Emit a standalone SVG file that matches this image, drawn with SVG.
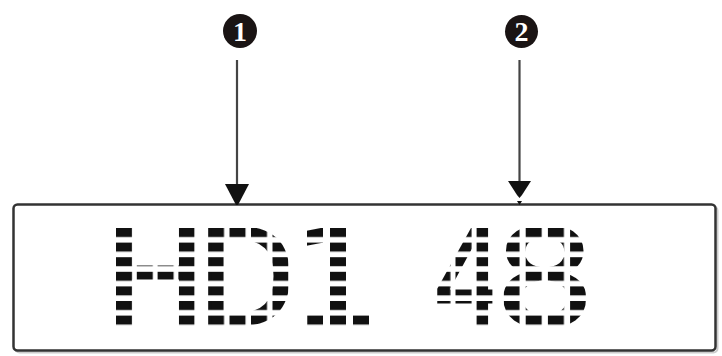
<svg xmlns="http://www.w3.org/2000/svg" width="722" height="356" viewBox="0 0 722 356">
<style>
.lcd{font-family:"DejaVu Sans",sans-serif;font-size:133px;fill:#111;stroke:#111;stroke-width:3px}
.num{font-family:"Liberation Serif",serif;font-weight:bold;font-size:28px;fill:#fff;text-anchor:middle}
.badge{fill:#1a1414}
.conn{stroke:#444;stroke-width:2.2;fill:none}
.dot{fill:#fff}
</style>
<defs>
<pattern id="pH" patternUnits="userSpaceOnUse" x="116" y="228" width="20.8" height="14.6"><rect class="dot" width="16" height="9"/></pattern>
<pattern id="pD" patternUnits="userSpaceOnUse" x="208" y="228" width="21.5" height="14.6"><rect class="dot" width="16" height="9"/></pattern>
<pattern id="p1" patternUnits="userSpaceOnUse" x="307" y="228" width="23" height="14.6"><rect class="dot" width="16" height="9"/></pattern>
<pattern id="p4" patternUnits="userSpaceOnUse" x="413.3" y="228" width="21.1" height="14.6"><rect class="dot" width="16" height="9"/></pattern>
<pattern id="p8" patternUnits="userSpaceOnUse" x="503.5" y="228" width="22.2" height="14.6"><rect class="dot" width="16" height="9"/></pattern>
<mask id="lcd" maskUnits="userSpaceOnUse" x="0" y="0" width="722" height="356" maskContentUnits="userSpaceOnUse">
<rect x="116" y="228" width="79.4" height="98" fill="url(#pH)"/>
<rect x="208" y="228" width="80.5" height="98" fill="url(#pD)"/>
<rect x="307" y="228" width="62" height="98" fill="url(#p1)"/>
<rect x="413.3" y="228" width="79.3" height="98" fill="url(#p4)"/>
<rect x="503.5" y="228" width="82.6" height="98" fill="url(#p8)"/>
</mask>
</defs>
<rect width="722" height="356" fill="#fff"/>
<g id="display">
<rect x="15.5" y="206.5" width="702" height="146" rx="4" fill="none" stroke="#ccc" stroke-width="2"/>
<rect x="13.5" y="204.5" width="702" height="146" rx="4" fill="#fff" stroke="#333" stroke-width="2.5"/>
</g>
<g id="readout" mask="url(#lcd)">
<text class="lcd"><tspan x="103.6" y="325" textLength="104.3" lengthAdjust="spacingAndGlyphs">H</tspan><tspan x="197.1" y="325" textLength="98.9" lengthAdjust="spacingAndGlyphs">D</tspan><tspan x="291.4" y="325" textLength="88.8" lengthAdjust="spacingAndGlyphs">1</tspan><tspan x="395" y="325"> </tspan><tspan x="432.9" y="325" textLength="71.9" lengthAdjust="spacingAndGlyphs">4</tspan><tspan x="494.2" y="325" textLength="101.1" lengthAdjust="spacingAndGlyphs">8</tspan></text>
</g>
<g id="connectors">
<line class="conn" x1="237" y1="60" x2="237" y2="190"/>
<polygon points="225,184 249,184 238,205 236,205" fill="#111"/>
<line class="conn" x1="519.5" y1="60" x2="519.5" y2="184"/>
<polygon points="508,181 531,181 522,195 519.5,198 517,195" fill="#111"/>
<polygon points="517,201 522,201 519.5,205" fill="#111"/>
</g>
<g id="label-1"><circle class="badge" cx="240" cy="31" r="17"/><text class="num" x="240" y="40.5">1</text></g>
<g id="label-2"><circle class="badge" cx="521.5" cy="31.5" r="16.5"/><text class="num" x="521.5" y="41">2</text></g>
</svg>
